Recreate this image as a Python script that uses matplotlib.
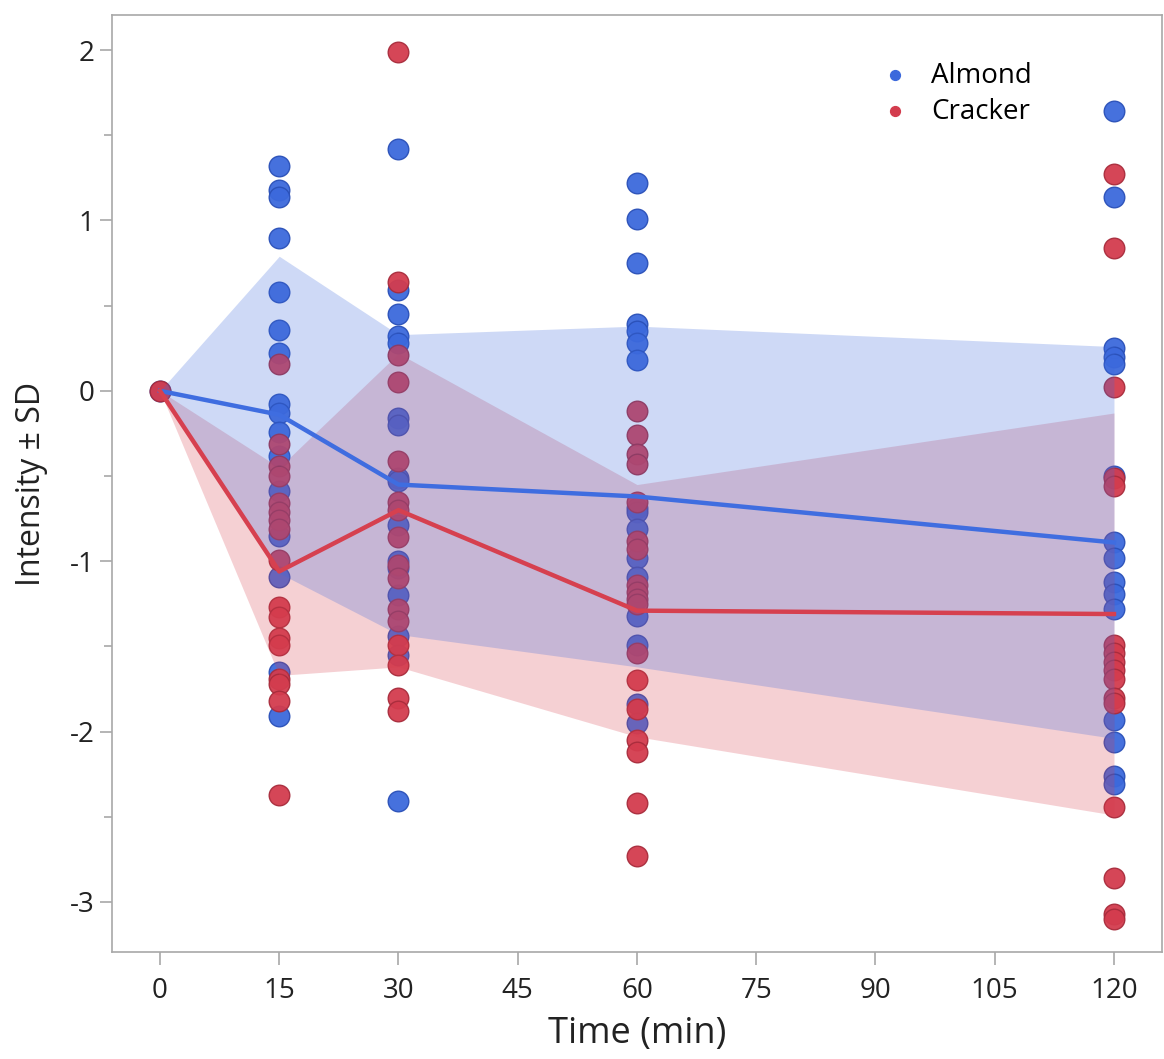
import matplotlib
matplotlib.use("Agg")
import matplotlib.pyplot as plt
from matplotlib.ticker import MultipleLocator
import numpy as np

plt.rcParams['font.family'] = ['Open Sans', 'DejaVu Sans']
plt.rcParams['axes.unicode_minus'] = False

# Sampling times (min)
times = [0, 15, 30, 60, 120]

# Individual responses per time point
almond_pts = {
    0: [0.0],
    15: [1.32, 1.18, 1.14, 0.90, 0.58, 0.36, 0.22, -0.08, -0.13, -0.24,
         -0.38, -0.59, -0.85, -1.09, -1.65, -1.91],
    30: [1.42, 0.59, 0.45, 0.32, 0.28, -0.16, -0.20, -0.51, -0.53, -0.79,
         -1.00, -1.04, -1.20, -1.44, -1.55, -2.41],
    60: [1.22, 1.01, 0.75, 0.39, 0.35, 0.28, 0.18, -0.69, -0.71, -0.81,
         -0.98, -1.09, -1.32, -1.49, -1.84, -1.95],
    120: [1.64, 1.14, 0.25, 0.20, 0.16, -0.50, -0.89, -0.98, -1.12, -1.19,
          -1.28, -1.93, -2.06, -2.26, -2.31],
}
cracker_pts = {
    0: [0.0],
    15: [0.16, -0.31, -0.44, -0.50, -0.66, -0.71, -0.76, -0.81, -0.99,
         -1.27, -1.33, -1.45, -1.49, -1.69, -1.72, -1.82, -2.37],
    30: [1.99, 0.64, 0.21, 0.05, -0.41, -0.65, -0.70, -0.86, -1.02, -1.10,
         -1.28, -1.35, -1.49, -1.61, -1.80, -1.88],
    60: [-0.12, -0.26, -0.37, -0.43, -0.65, -0.88, -0.93, -1.14, -1.18,
         -1.22, -1.25, -1.54, -1.70, -1.87, -2.05, -2.12, -2.42, -2.73],
    120: [1.27, 0.84, 0.02, -0.51, -0.56, -1.49, -1.54, -1.59, -1.64, -1.69,
          -1.80, -1.83, -2.44, -2.86, -3.07, -3.10],
}

# Group means and standard deviations
almond_mean = [0.0, -0.14, -0.55, -0.62, -0.89]
almond_sd = [0.0, 0.93, 0.88, 1.00, 1.15]
cracker_mean = [0.0, -1.06, -0.70, -1.29, -1.31]
cracker_sd = [0.0, 0.61, 0.92, 0.74, 1.18]

blue = '#3c69dc'
blue_edge = '#2a50b8'
red = '#d33c4e'
red_edge = '#a82c3c'

fig = plt.figure(figsize=(11.64, 10.59), dpi=100)
ax = fig.add_axes([0.0962, 0.101, 0.9018, 0.8848])

for t in times:
    ax.scatter([t] * len(almond_pts[t]), almond_pts[t], s=220, color=blue,
               edgecolors=blue_edge, linewidths=1, alpha=0.95, zorder=2)
    ax.scatter([t] * len(cracker_pts[t]), cracker_pts[t], s=220, color=red,
               edgecolors=red_edge, linewidths=1, alpha=0.95, zorder=2)

t = np.array(times)
am, asd = np.array(almond_mean), np.array(almond_sd)
cm, csd = np.array(cracker_mean), np.array(cracker_sd)

# SD bands drawn over the points (cracker first, almond on top)
ax.fill_between(t, cm - csd, cm + csd, color='#d83c4b', alpha=0.24,
                linewidth=0, zorder=3)
ax.fill_between(t, am - asd, am + asd, color='#3c69dc', alpha=0.25,
                linewidth=0, zorder=3.1)

# Mean lines
ax.plot(t, am, color='#3f6de0', lw=3.2, zorder=4)
ax.plot(t, cm, color='#d6404f', lw=3.2, zorder=4)

# Legend
h1 = ax.scatter([], [], s=50, color=blue)
h2 = ax.scatter([], [], s=50, color=red)
ax.legend([h1, h2], ['Almond', 'Cracker'], loc='upper right',
          bbox_to_anchor=(0.887, 0.962), frameon=False, fontsize=20,
          handletextpad=0.3, labelspacing=0.28, borderaxespad=0)

ax.set_xlim(-6.04, 126.0)
ax.set_ylim(-3.294, 2.206)
ax.set_xticks([0, 15, 30, 45, 60, 75, 90, 105, 120])
ax.set_yticks([-3, -2, -1, 0, 1, 2])
ax.yaxis.set_minor_locator(MultipleLocator(0.5))

for sp in ax.spines.values():
    sp.set_color('#a8a8a8')
    sp.set_linewidth(1.2)
ax.tick_params(axis='both', which='major', length=9, width=1.2,
               color='#a8a8a8', labelsize=20, labelcolor='#222222')
ax.tick_params(axis='x', which='major', pad=9)
ax.tick_params(axis='y', which='minor', length=6, width=1.2, color='#a8a8a8')

ax.set_xlabel('Time (min)', fontsize=26, color='#222222', labelpad=8)
ax.set_ylabel('Intensity ± SD', fontsize=23, color='#222222', labelpad=16)

fig.savefig('out.png', dpi=100)
